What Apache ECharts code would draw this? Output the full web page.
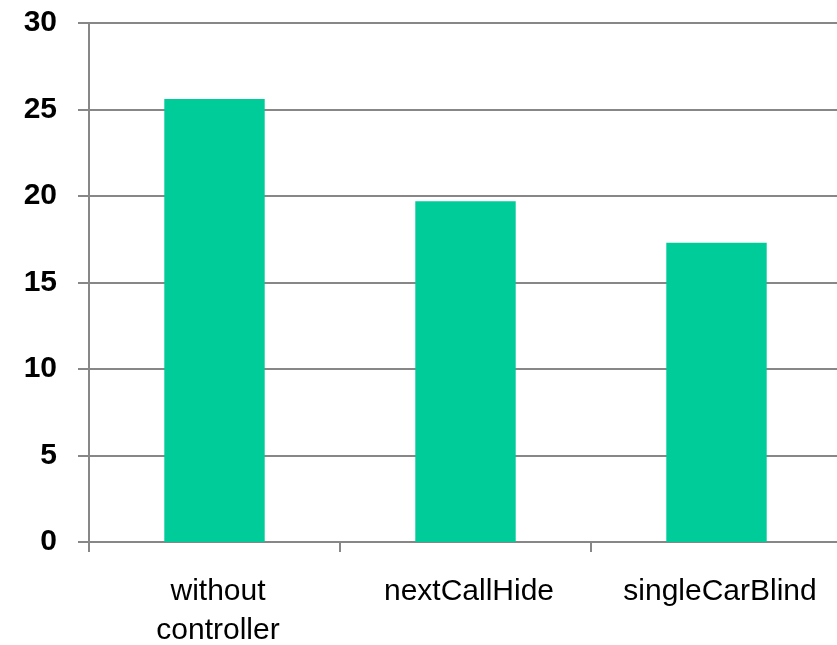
<!DOCTYPE html>
<html>
<head>
<meta charset="utf-8">
<script src="https://cdn.jsdelivr.net/npm/echarts@6/dist/echarts.min.js"></script>
<style>
  html, body { margin: 0; padding: 0; background: #ffffff; }
  #chart { width: 837px; height: 645px; }
</style>
</head>
<body>
<div id="chart"></div>
<script>
// Controller variants on the horizontal axis
const categories = ['without\ncontroller', 'nextCallHide', 'singleCarBlind'];
// Measured value for each variant
const values = [25.6, 19.7, 17.3];
// Value axis range and step
const yMin = 0;
const yMax = 30;
const yStep = 5;

const gridColor = '#878787';
const barColor = '#00CC99';

const chart = echarts.init(document.getElementById('chart'), null, { renderer: 'canvas' });

chart.setOption({
  animation: false,
  backgroundColor: '#ffffff',
  // plot area runs slightly past the right edge of the canvas; keep it fixed
  grid: {
    left: 89, width: 753, top: 23, bottom: 103,
    containLabel: false,
    outerBoundsMode: 'none'
  },
  xAxis: {
    type: 'category',
    data: categories,
    boundaryGap: true,
    axisLine: { show: true, lineStyle: { color: gridColor, width: 2 } },
    axisTick: { show: true, length: 10, alignWithLabel: false, lineStyle: { color: gridColor, width: 2 } },
    axisLabel: {
      margin: 30,
      color: '#000000',
      fontFamily: 'Liberation Sans, Arial, sans-serif',
      fontSize: 30,
      lineHeight: 39,
      padding: [0, 0, 0, 7],
      interval: 0,
      hideOverlap: false
    },
    splitLine: { show: false }
  },
  yAxis: {
    type: 'value',
    min: yMin,
    max: yMax,
    interval: yStep,
    axisLine: { show: true, lineStyle: { color: gridColor, width: 2 } },
    axisTick: { show: true, length: 11, lineStyle: { color: gridColor, width: 2 } },
    axisLabel: {
      margin: 32,
      color: '#000000',
      fontFamily: 'Liberation Sans, Arial, sans-serif',
      fontWeight: 'bold',
      fontSize: 30
    },
    splitLine: { show: true, lineStyle: { color: gridColor, width: 2 } }
  },
  series: [{
    type: 'bar',
    data: values,
    barWidth: '40%',
    itemStyle: { color: barColor }
  }]
});
</script>
</body>
</html>
